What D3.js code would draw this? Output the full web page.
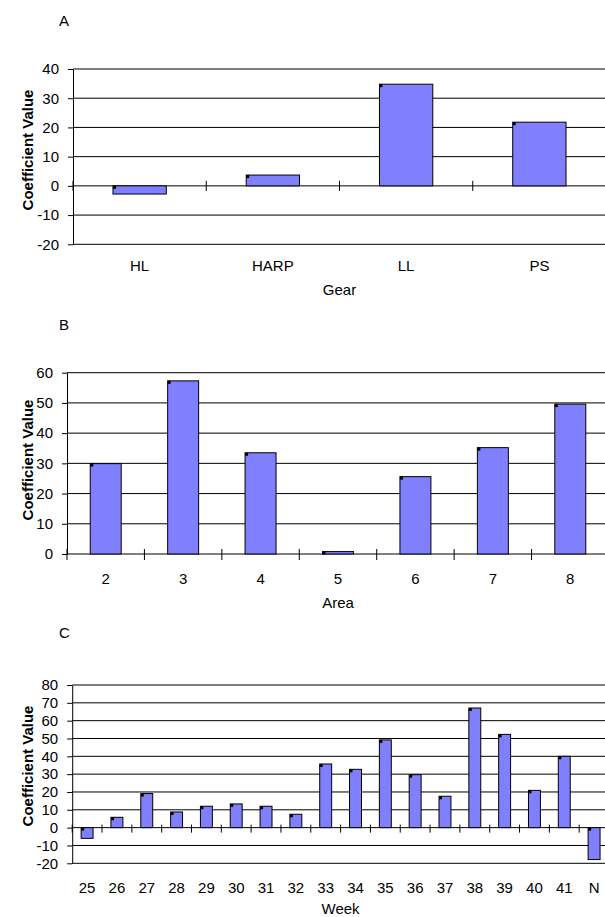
<!DOCTYPE html>
<head>
  <meta charset="UTF-8">
<script src="https://d3js.org/d3.v7.min.js"></script>
<style>
  body { margin: 0; background: #fff; }
  text { font-family: "Liberation Sans", Arial, sans-serif; }
</style>
</head>

<svg></svg>

<script>

var width = 605, height = 917;

// --------- DATOS
var gearCats = ["HL", "HARP", "LL", "PS"];
var gearVals = [-2.8, 3.7, 34.8, 21.8];
var gearTicks = [-20, -10, 0, 10, 20, 30, 40];

var areaCats = ["2", "3", "4", "5", "6", "7", "8"];
var areaVals = [29.9, 57.3, 33.5, 0.8, 25.6, 35.2, 49.6];
var areaTicks = [0, 10, 20, 30, 40, 50, 60];

var weekCats = ["25", "26", "27", "28", "29", "30", "31", "32", "33",
                "34", "35", "36", "37", "38", "39", "40", "41", "N"];
var weekVals = [-6.0, 5.8, 19.1, 8.8, 12.0, 13.3, 12.0, 7.5, 35.7,
                32.7, 49.2, 29.7, 17.6, 67.1, 52.3, 20.9, 40.0, -17.9];
var weekTicks = [-20, -10, 0, 10, 20, 30, 40, 50, 60, 70, 80];

var svg = d3.select("svg")
            .attr("width", width)
            .attr("height", height);

function drawPanel(p) {

  var g = svg.append("g").attr("class", "panel");

  var x = d3.scaleBand()
      .domain(p.cats)
      .range([p.left, p.right])
      .paddingInner(0.6)
      .paddingOuter(0.3);

  var y = d3.scaleLinear()
      .domain(d3.extent(p.ticks))
      .range([p.bottom, p.top]);

  // titulo del panel (A, B, C)
  g.append("text")
    .attr("x", 59)
    .attr("y", p.titleY)
    .attr("font-size", 15)
    .text(p.title);

  // lineas horizontales
  g.append("g").selectAll("line")
    .data(p.ticks)
    .enter().append("line")
    .attr("x1", p.left).attr("x2", p.right)
    .attr("y1", d => y(d)).attr("y2", d => y(d))
    .attr("stroke", "#000")
    .attr("stroke-width", 1);

  // eje y (guion normal, no signo menos unicode)
  var yAxis = g.append("g")
    .attr("transform", "translate(" + p.left + ",0)")
    .call(d3.axisLeft(y).tickValues(p.ticks).tickFormat(d => String(d))
      .tickSize(5).tickPadding(9).tickSizeOuter(0));
  yAxis.select(".domain").attr("stroke", "#000");
  yAxis.selectAll("text").attr("font-size", 15).attr("fill", "#000")
    .attr("font-family", "Liberation Sans, Arial, sans-serif");

  // marcas de categoria sobre la linea del cero
  var bounds = d3.range(p.cats.length + 1).map(i => x.range()[0] + i * x.step());
  g.append("g").selectAll("line")
    .data(bounds)
    .enter().append("line")
    .attr("x1", d => d).attr("x2", d => d)
    .attr("y1", y(0) - p.tickUp).attr("y2", y(0) + p.tickDown)
    .attr("stroke", "#000");

  // barras
  var bars = g.append("g").selectAll("g")
    .data(p.cats.map((c, i) => ({cat: c, val: p.vals[i]})))
    .enter().append("g");

  bars.append("rect")
    .attr("x", d => x(d.cat))
    .attr("width", x.bandwidth())
    .attr("y", d => Math.min(y(d.val), y(0)))
    .attr("height", d => Math.abs(y(d.val) - y(0)))
    .attr("fill", "#8080ff")
    .attr("stroke", "#000")
    .attr("stroke-width", 1);

  // cuadradito negro de excel
  bars.append("rect")
    .attr("x", d => x(d.cat))
    .attr("y", d => Math.min(y(d.val), y(0)))
    .attr("width", 3).attr("height", 3)
    .attr("fill", "#000");

  // etiquetas de categoria
  g.append("g")
    .attr("transform", "translate(0," + p.labelY + ")")
    .call(d3.axisBottom(x).tickSize(0).tickPadding(0))
    .call(a => a.select(".domain").remove())
    .selectAll("text")
    .attr("font-size", 15).attr("fill", "#000")
    .attr("font-family", "Liberation Sans, Arial, sans-serif")
    .attr("dy", 0);

  // titulo eje x
  g.append("text")
    .attr("x", (p.left + p.right) / 2)
    .attr("y", p.xTitleY)
    .attr("text-anchor", "middle")
    .attr("font-size", 15)
    .text(p.xTitle);

  // titulo eje y
  g.append("text")
    .attr("transform", "translate(" + 33 + "," + p.yTitleY + ") rotate(-90)")
    .attr("text-anchor", "middle")
    .attr("font-size", 15)
    .attr("font-weight", "bold")
    .text("Coefficient Value");
}

drawPanel({
  cats: gearCats, vals: gearVals, ticks: gearTicks,
  left: 73, right: 606, top: 69, bottom: 244.3,
  title: "A", titleY: 26, tickUp: 5, tickDown: 5,
  labelY: 271, xTitle: "Gear", xTitleY: 295, yTitleY: 150
});

drawPanel({
  cats: areaCats, vals: areaVals, ticks: areaTicks,
  left: 67, right: 609, top: 372.7, bottom: 554,
  title: "B", titleY: 330, tickUp: 5, tickDown: 6,
  labelY: 583.5, xTitle: "Area", xTitleY: 608, yTitleY: 460
});

drawPanel({
  cats: weekCats, vals: weekVals, ticks: weekTicks,
  left: 72.2, right: 609, top: 685, bottom: 863.3,
  title: "C", titleY: 638, tickUp: 3, tickDown: 5,
  labelY: 892.5, xTitle: "Week", xTitleY: 914, yTitleY: 766
});

</script>
